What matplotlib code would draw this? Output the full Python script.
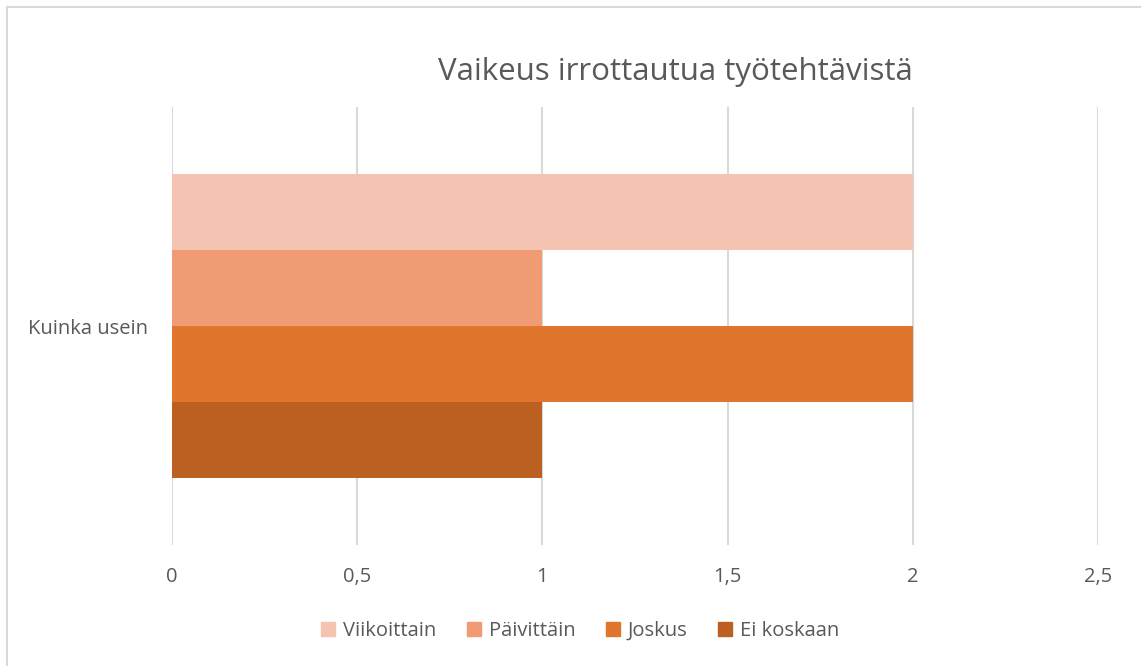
import matplotlib.pyplot as plt
import numpy as np
from matplotlib.lines import Line2D

categories = ['Kuinka usein']
series = ['Viikoittain', 'Päivittäin', 'Joskus', 'Ei koskaan']
values = [2, 1, 2, 1]
colors = ['#F5C3B2', '#F09B73', '#E0752D', '#BB6020']
xticks = [0, 0.5, 1, 1.5, 2, 2.5]
xtick_labels = ['0', '0,5', '1', '1,5', '2', '2,5']

plt.rcParams['font.family'] = ['Open Sans', 'DejaVu Sans']
text_color = '#595959'

fig = plt.figure(figsize=(11.41, 6.66), dpi=100)
ax = fig.add_axes([172 / 1141, 1 - 545 / 666, (1098 - 172) / 1141, (545 - 107) / 666])

h = 0.173
offsets = [1.5, 0.5, -0.5, -1.5]
for name, val, col, off in zip(series, values, colors, offsets):
    ax.barh(0 + off * h, val, height=h, color=col, label=name, zorder=2)

ax.set_xlim(0, 2.5)
ax.set_ylim(-0.5, 0.5)
ax.set_xticks(xticks)
ax.set_xticklabels(xtick_labels)
ax.set_yticks([0])
ax.set_yticklabels(categories)
ax.tick_params(axis='x', length=0, pad=16, labelsize=14.5, labelcolor=text_color)
ax.tick_params(axis='y', length=0, pad=17, labelsize=14.5, labelcolor=text_color)
ax.grid(axis='x', color='#D9D9D9', linewidth=1.5, zorder=0)
for s in ax.spines.values():
    s.set_visible(False)

fig.text(675 / 1141, 1 - 72 / 666, 'Vaikeus irrottautua työtehtävistä', ha='center', va='center',
         fontsize=22.5, color=text_color)

handles = [plt.Rectangle((0, 0), 1, 1, color=c) for c in colors]
fig.legend(handles, series, loc='center', bbox_to_anchor=(580 / 1141, 1 - 631 / 666), ncol=4,
           frameon=False, fontsize=14.5, labelcolor=text_color, handlelength=0.7, handleheight=0.7,
           handletextpad=0.4, columnspacing=1.5)

# chart border (top and left edges visible)
fig.add_artist(Line2D([7 / 1141, 7 / 1141], [0, 1 - 7 / 666], color='#D9D9D9', linewidth=1.5))
fig.add_artist(Line2D([7 / 1141, 1], [1 - 7 / 666, 1 - 7 / 666], color='#D9D9D9', linewidth=1.5))

fig.savefig('out.png', dpi=100)
